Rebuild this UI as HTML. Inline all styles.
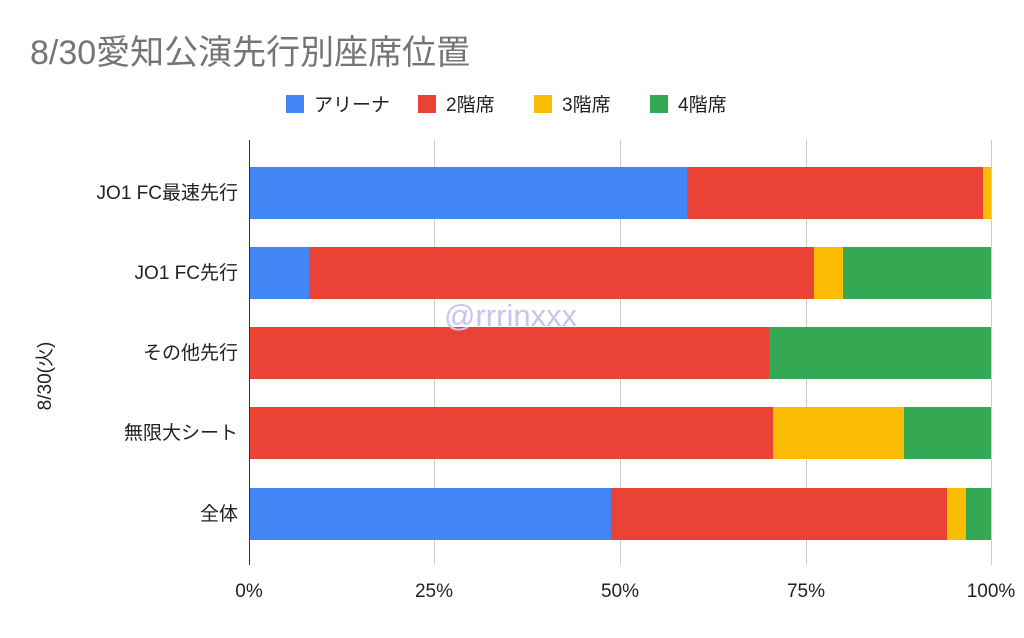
<!DOCTYPE html>
<html><head><meta charset="utf-8"><style>
body{margin:0;background:#fff;}
svg text{font-family:"Liberation Sans","Noto Sans CJK JP",sans-serif;}
</style></head><body>
<svg width="1024" height="633" xmlns="http://www.w3.org/2000/svg">
<rect width="1024" height="633" fill="#fff"/>
<text x="30" y="64" font-size="34" fill="#757575">8/30愛知公演先行別座席位置</text>
<g font-size="19" fill="#222">
<rect x="286" y="95" width="18" height="18" fill="#4285f4"/><text x="314" y="111">アリーナ</text>
<rect x="418" y="95" width="18" height="18" fill="#ea4335"/><text x="446" y="111">2階席</text>
<rect x="534" y="95" width="18" height="18" fill="#fbbc04"/><text x="562" y="111">3階席</text>
<rect x="650" y="95" width="18" height="18" fill="#34a853"/><text x="678" y="111">4階席</text>
</g>
<g stroke="#cccccc" stroke-width="1">
<line x1="434.5" y1="140" x2="434.5" y2="565"/>
<line x1="620.5" y1="140" x2="620.5" y2="565"/>
<line x1="806.5" y1="140" x2="806.5" y2="565"/>
<line x1="991.5" y1="140" x2="991.5" y2="565"/>
</g>
<rect x="249" y="167" width="438" height="52" fill="#4285f4"/>
<rect x="687" y="167" width="296" height="52" fill="#ea4335"/>
<rect x="983" y="167" width="8" height="52" fill="#fbbc04"/>
<rect x="249" y="247" width="60" height="52" fill="#4285f4"/>
<rect x="309" y="247" width="505" height="52" fill="#ea4335"/>
<rect x="814" y="247" width="29" height="52" fill="#fbbc04"/>
<rect x="843" y="247" width="148" height="52" fill="#34a853"/>
<rect x="249" y="327" width="520" height="52" fill="#ea4335"/>
<rect x="769" y="327" width="222" height="52" fill="#34a853"/>
<rect x="249" y="407" width="524" height="52" fill="#ea4335"/>
<rect x="773" y="407" width="131" height="52" fill="#fbbc04"/>
<rect x="904" y="407" width="87" height="52" fill="#34a853"/>
<rect x="249" y="488" width="362" height="52" fill="#4285f4"/>
<rect x="611" y="488" width="336" height="52" fill="#ea4335"/>
<rect x="947" y="488" width="19" height="52" fill="#fbbc04"/>
<rect x="966" y="488" width="25" height="52" fill="#34a853"/>
<line x1="249.5" y1="140" x2="249.5" y2="565" stroke="#333" stroke-width="1"/>
<text x="444" y="326" font-size="31" fill="#c9c3f0">@rrrinxxx</text>
<g font-size="19" fill="#222" text-anchor="end">
<text x="238" y="199">JO1 FC最速先行</text>
<text x="238" y="279">JO1 FC先行</text>
<text x="238" y="359">その他先行</text>
<text x="238" y="439">無限大シート</text>
<text x="238" y="520">全体</text>
</g>
<g font-size="19" fill="#222" text-anchor="middle">
<text x="249" y="597">0%</text>
<text x="434" y="597">25%</text>
<text x="620" y="597">50%</text>
<text x="806" y="597">75%</text>
<text x="991" y="597">100%</text>
</g>
<text transform="translate(51,376) rotate(-90)" font-size="19" fill="#222" text-anchor="middle">8/30(火)</text>
</svg>
</body></html>
